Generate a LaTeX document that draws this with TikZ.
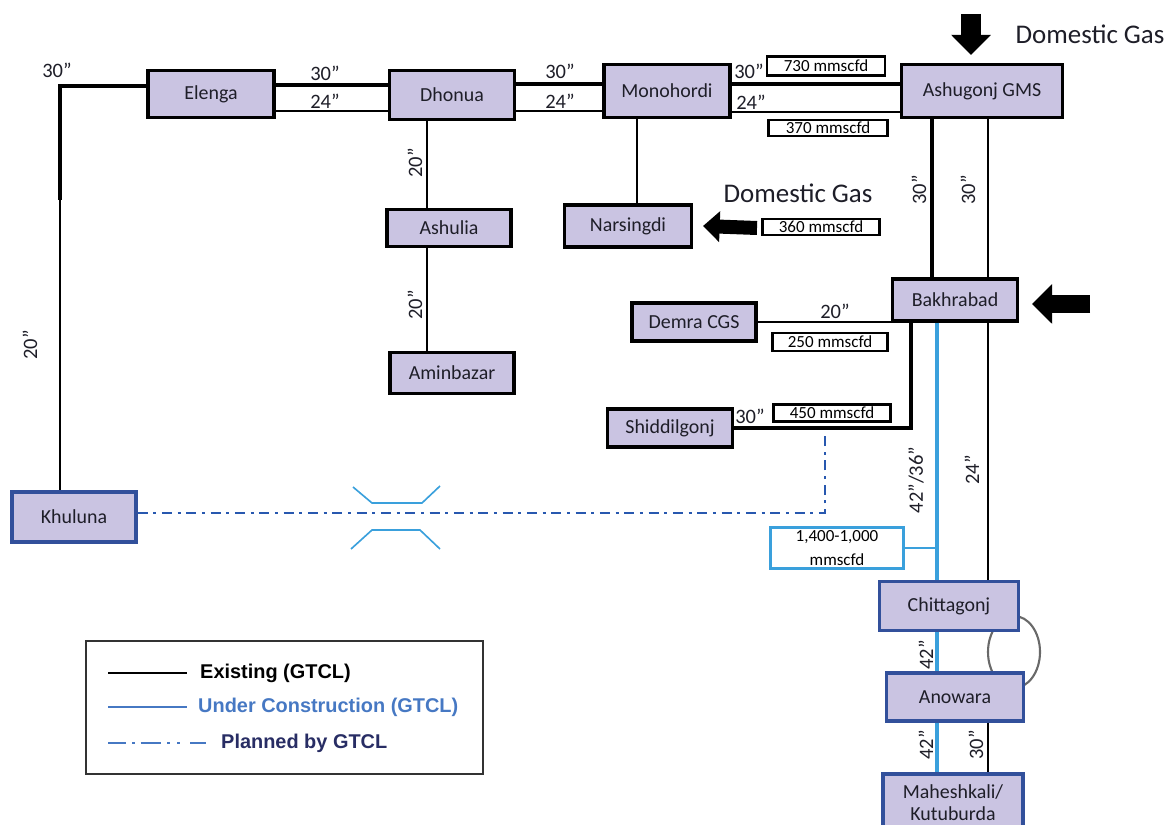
\documentclass[tikz,border=0pt]{standalone}
\usepackage{fontspec}
\setmainfont{Carlito}
\newfontfamily\legendfont{Liberation Sans}
\usetikzlibrary{positioning,arrows.meta,calc}

\newdimen\unitpx \unitpx=0.03cm

\definecolor{stationfill}{RGB}{202,196,226}
\definecolor{stationblue}{RGB}{50,80,155}
\definecolor{newline}{RGB}{58,160,220}
\definecolor{plannedline}{RGB}{40,88,175}
\definecolor{loopgray}{RGB}{105,105,105}
\definecolor{textdark}{RGB}{30,30,40}
\definecolor{legendblue}{RGB}{70,120,195}
\definecolor{legendnavy}{RGB}{40,45,100}

\begin{document}
\begin{tikzpicture}[x=\unitpx,y=-\unitpx,
  station/.style={draw,line width=2.6pt,fill=stationfill,text=textdark,inner sep=0pt,font=\fontsize{17}{19}\selectfont},
  newstation/.style={station,draw=stationblue},
  flowbox/.style={draw,line width=2.3pt,fill=white,inner sep=0pt,font=\fontsize{14.5}{15}\selectfont},
  size/.style={inner sep=1pt,text=textdark,font=\fontsize{17.5}{19}\selectfont},
  gasfont/.style={inner sep=0pt,text=textdark,font=\fontsize{23}{26}\selectfont},
  pipe/.style={line width=2.5pt},
  pipethick/.style={line width=3.8pt},
  pipethin/.style={line width=1.8pt},
  newpipe/.style={newline,line width=2.6pt},
  planned/.style={plannedline,line width=2.4pt,dash pattern=on 0.3cm off 0.17cm on 0.09cm off 0.17cm},
  crossing/.style={newline,line width=1.4pt},
  feed/.style={line width=0.6cm,-{Triangle[length=0.6cm,width=1.15cm]}},
  legendtext/.style={anchor=west,inner sep=0pt,font=\legendfont\bfseries\fontsize{17}{19}\selectfont}]

\useasboundingbox (0,0) rectangle (1168,825);

% loop between Chittagonj and Anowara (stations drawn over it)
\draw[loopgray,line width=1.8pt] (1014,652) ellipse [x radius=26,y radius=36];

% stations
\foreach \name/\x/\y/\w/\h/\txt in {elenga/211/94/126/47/Elenga,dhonua/452/95/125/49/Dhonua,
  mono/667/91/126/53/Monohordi,ashu/982/91/161/53/Ashugonj GMS,ashulia/449/228/124/37/Ashulia,
  amin/452/373/124/41/Aminbazar,narsi/628/226/127/42/Narsingdi,demra/694/322/124/38/Demra CGS,
  bakh/955/300/125/42/Bakhrabad,shiddil/670/428/125/38/Shiddilgonj}
	\node[station,minimum width=\w\unitpx,minimum height=\h\unitpx] (\name) at (\x,\y) {\txt};

\foreach \name/\x/\y/\w/\h/\txt in {khul/74/517/124/50/Khuluna,chitta/949/606/139/49/Chittagonj,
  anow/955/697/137/48/Anowara}
	\node[newstation,minimum width=\w\unitpx,minimum height=\h\unitpx] (\name) at (\x,\y) {\txt};

\node[newstation,minimum width=140\unitpx,minimum height=58\unitpx,align=center] (mahesh) at (953,803) {Maheshkali/\\Kutuburda};

% flows
\node[flowbox,minimum width=118\unitpx,minimum height=19\unitpx] (f730) at (826,66) {730 mmscfd};
\node[flowbox,minimum width=119\unitpx,minimum height=16\unitpx] (f370) at (828,128) {370 mmscfd};
\node[flowbox,minimum width=117\unitpx,minimum height=16\unitpx] (f360) at (821,227) {360 mmscfd};
\node[flowbox,minimum width=115\unitpx,minimum height=18\unitpx] (f250) at (830,342) {250 mmscfd};
\node[flowbox,minimum width=117\unitpx,minimum height=17\unitpx] (f450) at (832,413) {450 mmscfd};
\node[flowbox,draw=newline,minimum width=133\unitpx,minimum height=41\unitpx,align=center,
  font=\fontsize{14.5}{21}\selectfont] (fbig) at (837,548) {1,400-1,000\\mmscfd};

% Elenga - Khuluna
\coordinate (bend) at (60,86);
\coordinate (neck) at (60,200);
\draw[pipethick] ([yshift=8\unitpx]elenga.west) -- (bend) -- (neck);
\draw[pipethin] (neck) -- (neck |- khul.north);

% northern trunk
\draw[pipethick] ([yshift=9\unitpx]elenga.east) -- ([yshift=9\unitpx]elenga.east -| dhonua.west);
\draw[pipe] ([yshift=-17\unitpx]elenga.east) -- ([yshift=-17\unitpx]elenga.east -| dhonua.west);
\draw[pipethick] ([yshift=11\unitpx]dhonua.east) -- ([yshift=11\unitpx]dhonua.east -| mono.west);
\draw[pipe] ([yshift=-16\unitpx]dhonua.east) -- ([yshift=-16\unitpx]dhonua.east -| mono.west);
\draw[pipethick] ([yshift=7\unitpx]mono.east) -- ([yshift=7\unitpx]mono.east -| ashu.west);
\draw[pipe] ([yshift=-21\unitpx]mono.east) -- ([yshift=-21\unitpx]mono.east -| ashu.west);

% branches
\draw[pipethin] ([xshift=-25\unitpx]dhonua.south) -- ([xshift=-25\unitpx]dhonua.south |- ashulia.north);
\draw[pipethin] ([xshift=-22\unitpx]ashulia.south) -- ([xshift=-22\unitpx]ashulia.south |- amin.north);
\draw[pipethin] ([xshift=-30\unitpx]mono.south) -- ([xshift=-30\unitpx]mono.south |- narsi.north);
\draw[pipethick] ([xshift=-50\unitpx]ashu.south) -- ([xshift=-50\unitpx]ashu.south |- bakh.north);
\draw[pipe] ([xshift=6\unitpx]ashu.south) -- ([xshift=6\unitpx]ashu.south |- bakh.north);
\draw[pipe] (demra.east) -- (demra.east -| bakh.west);
\draw[pipethick] ([xshift=-44\unitpx]bakh.south) |- (shiddil.east);

% southern lines
\coordinate (bluetop) at ([xshift=-18\unitpx]bakh.south);
\draw[newpipe] (bluetop) -- (bluetop |- chitta.north);
\draw[newpipe] ([xshift=-12\unitpx]chitta.south) -- ([xshift=-12\unitpx]chitta.south |- anow.north);
\draw[newpipe] ([xshift=-18\unitpx]anow.south) -- ([xshift=-18\unitpx]anow.south |- mahesh.north);
\draw[newline,line width=1.3pt] (fbig.east) -- (fbig.east -| bluetop);
\draw[pipethin] ([xshift=33\unitpx]bakh.south) -- ([xshift=33\unitpx]bakh.south |- chitta.north);
\draw[pipe] ([xshift=33\unitpx]anow.south) -- ([xshift=33\unitpx]anow.south |- mahesh.north);

% planned link to Khuluna
\coordinate (tee) at (825,432);
\draw[planned] ([yshift=4\unitpx]khul.east) -| (tee);
\draw[crossing] (353,487) -- (372,503) -- (422,503) -- (440,486);
\draw[crossing] (351,549) -- (372,530) -- (420,530) -- (440,549);

% domestic gas
\node[gasfont] (gastop) at (1090,34) {Domestic Gas};
\node[gasfont] (gasmid) at (798,193) {Domestic Gas};
\coordinate (feedA) at (971,14);
\coordinate (feedB) at (757,228);
\coordinate (feedC) at (1090,304);
\draw[feed] (feedA) -- ([xshift=-11\unitpx,yshift=8\unitpx]ashu.north);
\draw[feed,line width=0.42cm,-{Triangle[length=0.5cm,width=0.9cm]}] (feedB) -- ([xshift=10\unitpx]narsi.east);
\draw[feed,line width=0.55cm] (feedC) -- ([xshift=13\unitpx,yshift=-4\unitpx]bakh.east);

% sizes
\node[size] (s1) at (57,70) {30”};
\node[size,rotate=90] (s2) at (30,345) {20”};
\node[size] (s3) at (325,73) {30”};
\node[size] (s4) at (325,101) {24”};
\node[size] (s5) at (560,71) {30”};
\node[size] (s6) at (560,101) {24”};
\node[size] (s7) at (749,71) {30”};
\node[size] (s8) at (751,102) {24”};
\node[size,rotate=90] (s9) at (415,163) {20”};
\node[size,rotate=90] (s10) at (415,305) {20”};
\node[size,rotate=90] (s11) at (919,190) {30”};
\node[size,rotate=90] (s12) at (968,190) {30”};
\node[size] (s13) at (835,311) {20”};
\node[size] (s14) at (750,416) {30”};
\node[size,rotate=90] (s15) at (916,480) {42”/36”};
\node[size,rotate=90] (s16) at (972,470) {24”};
\node[size,rotate=90] (s17) at (926,655) {42”};
\node[size,rotate=90] (s18) at (926,745) {42”};
\node[size,rotate=90] (s19) at (976,745) {30”};

% legend
\draw[line width=1.3pt,black!80] (86,641) rectangle (483,774);
\coordinate (k1) at (108,673); \coordinate (k1e) at (187,673);
\coordinate (k2) at (108,707); \coordinate (k2e) at (187,707);
\coordinate (k3) at (108,743); \coordinate (k3e) at (206,743);
\draw[pipe] (k1) -- (k1e);
\draw[legendblue,line width=2.2pt] (k2) -- (k2e);
\draw[legendblue,line width=2.4pt,dash pattern=on 0.55cm off 0.17cm on 0.09cm off 0.17cm on 0.6cm off 0.2cm on 0.09cm off 0.2cm on 0.09cm off 0.3cm] (k3) -- (k3e);
\node[legendtext] (lexist) at (200,673) {Existing (GTCL)};
\node[legendtext,text=legendblue] (lunder) at (198,707) {Under Construction (GTCL)};
\node[legendtext,text=legendnavy] (lplan) at (221,743) {Planned by GTCL};

\end{tikzpicture}
\end{document}
